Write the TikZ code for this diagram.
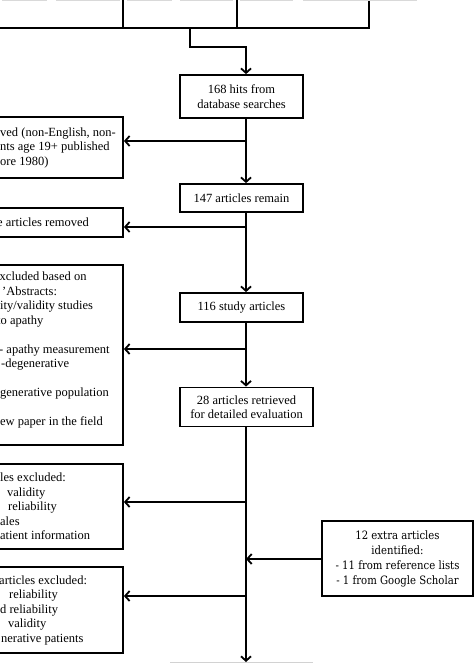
\documentclass[tikz,border=0pt]{standalone}
\usepackage{fontspec}
\setmainfont{Liberation Serif}
\newfontfamily\extrafont[FakeStretch=0.88]{DejaVu Serif}
\usetikzlibrary{arrows.meta}
\tikzset{
  box/.style={draw,line width=1.8pt,inner sep=0pt,align=center,
    font=\fontsize{12.5}{14.5}\selectfont},
  cuttext/.style={anchor=west,inner sep=0pt,align=left,
    font=\fontsize{12.5}{14.5}\selectfont},
  flow/.style={line width=1.8pt,-{Straight Barb[length=4.5pt,width=10pt]}},
}

\begin{document}
\begin{tikzpicture}[x=1pt,y=-1pt]
  \useasboundingbox (0,0) rectangle (474,663);
  \clip (0,0) rectangle (474,663);
  % row above, cut off at the top
  \node[box,minimum width=135,minimum height=48] (tb1) at (55.5,4) {};
  \node[box,minimum width=114,minimum height=48] (tb2) at (180,4) {};
  \node[box,minimum width=132,minimum height=48] (tb3) at (303,4) {};
  \foreach \a/\b in {2/47,56/120,127/172,180/233,240/293,303/417}
    \draw[gray!30,line width=1pt] (\a,0.5) -- (\b,0.5);
  % main column
  \node[box,minimum width=123,minimum height=43] (b168) at (241.5,96.5) {168 hits from\\database searches};
  \node[box,minimum width=123,minimum height=28] (b147) at (241.5,198) {147 articles remain};
  \node[box,minimum width=123,minimum height=29] (b116) at (241.5,307.5) {116 study articles};
  \node[box,minimum width=133,minimum height=39] (b28) at (246.5,407) {28 articles retrieved\\for detailed evaluation};
  \draw[gray!35,line width=1pt] (170,662.5) -- (313,662.5);
  % removed / excluded, cut off at the left
  \node[box,minimum width=135,minimum height=61] (r1) at (55.5,147.5) {};
  \node[cuttext] at (0,147.5) {ved (non-English, non-\\nts age 19+ published\\ore 1980)};
  \node[box,minimum width=135,minimum height=29] (r2) at (55.5,222.5) {};
  \node[cuttext] at (0,222.5) {\hspace*{-3pt}e articles removed};
  \node[box,minimum width=135,minimum height=180] (r3) at (55.5,355) {};
  \node[cuttext] at (0,350) {\hspace*{-6pt}excluded based on\\\hspace*{2pt}’Abstracts:\\ity/validity studies\\\hspace*{-3pt}to apathy\\\mbox{}\\\hspace*{-1pt}- apathy measurement\\\hspace*{1pt}-degenerative\\\mbox{}\\generative population\\\mbox{}\\ew paper in the field};
  \node[box,minimum width=135,minimum height=85] (r4) at (55.5,506.5) {};
  \node[cuttext] at (0,506.5) {les excluded:\\\hspace*{7pt}validity\\\hspace*{8pt}reliability\\ales\\atient information};
  \node[box,minimum width=135,minimum height=86] (r5) at (55.5,610) {};
  \node[cuttext] at (0,610) {\hspace*{-1pt}articles excluded:\\\hspace*{9pt}reliability\\d reliability\\\hspace*{8pt}validity\\\hspace*{1pt}nerative patients};
  % extra articles
  \node[box,minimum width=151,minimum height=75,font=\extrafont\fontsize{11.5}{15}\selectfont] (xa) at (397.5,558.5) {12 extra articles\\identified:\\- 11 from reference lists\\- 1 from Google Scholar};
  % connectors
  \coordinate (sp) at (246,0);
  \coordinate (t0) at (190,28);
  \coordinate (t1) at (246,47);
  \coordinate (j1) at (246,141);
  \coordinate (j2) at (246,227);
  \coordinate (j3) at (246,349);
  \coordinate (j4) at (246,502);
  \coordinate (j5) at (246,559);
  \coordinate (j6) at (246,596);
  \coordinate (end) at (246,662);
  \draw[flow] (t0) |- (t1) -- (b168.north -| sp);
  \draw[flow] (b168.south -| sp) -- (b147.north -| sp);
  \draw[flow] (b147.south -| sp) -- (b116.north -| sp);
  \draw[flow] (b116.south -| sp) -- (b28.north -| sp);
  \draw[flow] (b28.south -| sp) -- (end);
  \draw[flow] (j1) -- (j1 -| r1.east);
  \draw[flow] (j2) -- (j2 -| r2.east);
  \draw[flow] (j3) -- (j3 -| r3.east);
  \draw[flow] (j4) -- (j4 -| r4.east);
  \draw[flow] (j6) -- (j6 -| r5.east);
  \draw[flow] (j5 -| xa.west) -- (j5);
\end{tikzpicture}
\end{document}
